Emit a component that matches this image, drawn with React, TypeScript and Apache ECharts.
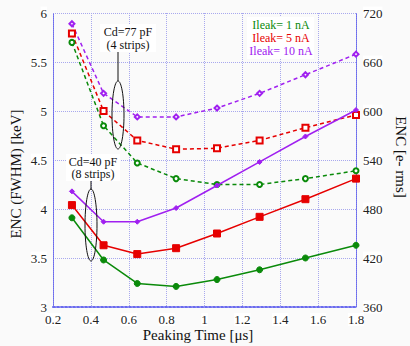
import React, { useEffect, useRef } from "react";
import * as echarts from "echarts";

const peakingTimes = [0.3, 0.467, 0.645, 0.85, 1.066, 1.291, 1.533, 1.8];

// Cd = 40 pF (8 strips) — solid lines
const solid1nA = [3.91, 3.48, 3.24, 3.21, 3.28, 3.38, 3.5, 3.63];
const solid5nA = [4.04, 3.63, 3.54, 3.6, 3.75, 3.92, 4.1, 4.31];
const solid10nA = [4.18, 3.87, 3.87, 4.01, 4.24, 4.48, 4.74, 5.01];

// Cd = 77 pF (4 strips) — dashed lines
const dashed1nA = [5.7, 4.85, 4.47, 4.31, 4.25, 4.25, 4.31, 4.39];
const dashed5nA = [5.79, 5.0, 4.7, 4.61, 4.62, 4.7, 4.83, 4.96];
const dashed10nA = [5.89, 5.18, 4.94, 4.94, 5.03, 5.18, 5.37, 5.58];

const legendLabels = ["Ileak= 1 nA", "Ileak= 5 nA", "Ileak= 10 nA"];
const colors = ["#0a8a0a", "#e60000", "#a020f0"];

const FONT = "Liberation Serif, DejaVu Serif, serif";

const pairs = (ys: number[]) => peakingTimes.map((x, i) => [x, ys[i]]);

export default function App() {
  const ref = useRef<HTMLDivElement>(null);
  useEffect(() => {
    document.body.style.margin = "0";
    const chart = echarts.init(ref.current!, null, { renderer: "svg" });
    const gridColor = "#a8a8ee";
    const axisColor = "#6a6aee";
    const mk = (
      name: string,
      ys: number[],
      color: string,
      dashed: boolean,
      symbol: string,
      size: number
    ) => ({
      type: "line",
      name,
      data: pairs(ys),
      symbol,
      symbolSize: size,
      lineStyle: { color, width: 1.5, type: dashed ? [4, 3] : "solid" },
      itemStyle: { color, borderColor: color, borderWidth: 1 },
      z: dashed ? 3 : 4,
    });
    const txt = (
      x: number,
      y: number,
      text: string,
      fill: string,
      size: number,
      extra: any = {}
    ) => ({
      type: "text",
      x,
      y,
      z: 11,
      ...extra.el,
      style: {
        text,
        fill,
        fontFamily: FONT,
        fontSize: size,
        textAlign: "center",
        textVerticalAlign: "middle",
        ...extra.style,
      },
    });
    chart.setOption({
      animation: false,
      backgroundColor: "#fafafa",
      textStyle: { fontFamily: FONT },
      grid: { left: 53, right: 54, top: 13, bottom: 39 },
      xAxis: {
        type: "value",
        min: 0.2,
        max: 1.8,
        interval: 0.2,
        axisLine: { show: true, lineStyle: { color: axisColor, width: 2, type: "dotted" } },
        axisTick: { show: false },
        splitLine: { show: true, lineStyle: { color: gridColor, type: "dotted" } },
        axisLabel: {
          color: "#222",
          fontSize: 13,
          fontFamily: FONT,
          margin: 6,
          backgroundColor: "#fff",
          formatter: (v: number) => String(+v.toFixed(1)),
        },
      },
      yAxis: [
        {
          type: "value",
          min: 3,
          max: 6,
          interval: 0.5,
          axisLine: { show: true, lineStyle: { color: axisColor, type: "dotted" } },
          axisTick: { show: false },
          splitLine: { show: true, lineStyle: { color: gridColor, type: "dotted" } },
          axisLabel: {
            color: "#222",
            fontSize: 13,
            fontFamily: FONT,
            margin: 6,
            backgroundColor: "#fff",
          },
        },
        {
          type: "value",
          position: "right",
          min: 360,
          max: 720,
          interval: 60,
          axisLine: { show: true, lineStyle: { color: axisColor, type: "dotted" } },
          axisTick: { show: false },
          splitLine: { show: false },
          axisLabel: {
            color: "#222",
            fontSize: 13,
            fontFamily: FONT,
            margin: 7,
            backgroundColor: "#fff",
          },
        },
      ],
      series: [
        mk("77pF 1nA", dashed1nA, colors[0], true, "emptyCircle", 5),
        mk("77pF 5nA", dashed5nA, colors[1], true, "emptyRect", 6),
        mk("77pF 10nA", dashed10nA, colors[2], true, "emptyDiamond", 5),
        mk("40pF 1nA", solid1nA, colors[0], false, "circle", 6),
        mk("40pF 5nA", solid5nA, colors[1], false, "rect", 7),
        mk("40pF 10nA", solid10nA, colors[2], false, "diamond", 5),
      ],
      graphic: [
        // legend box
        {
          type: "rect",
          shape: { x: 247, y: 17, width: 67, height: 42 },
          style: { fill: "#fff" },
          z: 10,
        },
        ...legendLabels.map((t, i) => txt(281, 25 + i * 13, t, colors[i], 12)),
        // Cd=77 annotation
        {
          type: "rect",
          shape: { x: 100, y: 24, width: 56, height: 28 },
          style: { fill: "#fff" },
          z: 10,
        },
        txt(128, 31.5, "Cd=77 pF", "#111", 12),
        txt(128, 44.5, "(4 strips)", "#111", 12),
        {
          type: "line",
          shape: { x1: 118, y1: 52, x2: 118, y2: 81 },
          style: { stroke: "#111", lineWidth: 1 },
          z: 11,
        },
        {
          type: "ellipse",
          shape: { cx: 118, cy: 115, rx: 6, ry: 34 },
          style: { fill: "none", stroke: "#111", lineWidth: 1 },
          z: 11,
        },
        // Cd=40 annotation
        {
          type: "rect",
          shape: { x: 66, y: 154, width: 54, height: 27 },
          style: { fill: "#fff" },
          z: 10,
        },
        txt(93, 161.5, "Cd=40 pF", "#111", 12),
        txt(93, 174, "(8 strips)", "#111", 12),
        {
          type: "line",
          shape: { x1: 91, y1: 181, x2: 91, y2: 190 },
          style: { stroke: "#111", lineWidth: 1 },
          z: 11,
        },
        {
          type: "ellipse",
          shape: { cx: 91, cy: 225, rx: 6, ry: 36 },
          style: { fill: "none", stroke: "#111", lineWidth: 1 },
          z: 11,
        },
        // axis titles
        txt(16, 174, "ENC (FWHM) [keV]", "#111", 15, { el: { rotation: Math.PI / 2 } }),
        txt(401, 157, "ENC [e- rms]", "#111", 15, { el: { rotation: -Math.PI / 2 } }),
        txt(198, 335, "Peaking Time [μs]", "#111", 15),
      ],
    });
    return () => chart.dispose();
  }, []);
  return (
    <div
      ref={ref}
      style={{ position: "absolute", left: 0, top: 0, width: 410, height: 346 }}
    />
  );
}
